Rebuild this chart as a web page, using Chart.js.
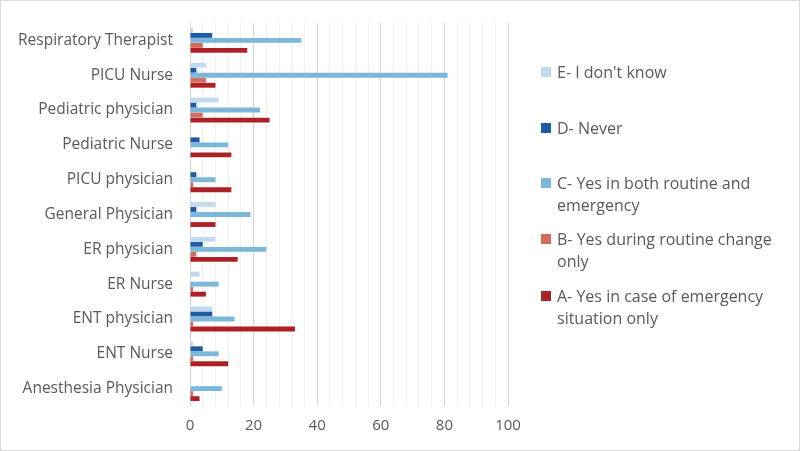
<!DOCTYPE html>
<html lang="en">
<head>
    <meta charset="UTF-8">
    <title>Respuestas por profesión</title>
    <script src="https://cdn.jsdelivr.net/npm/chart.js"></script>
    <style>
        body {
            margin: 0;
            padding: 0;
            background: #fff;
            font-family: "Open Sans", sans-serif;
        }
        .frame {
            position: relative;
            width: 798px;
            height: 449px;
            border: 1px solid #d9d9d9;
        }
        #grafico {
            position: absolute;
            left: 0;
            top: 0;
        }
        .legend {
            position: absolute;
            left: 540px;
            top: 0;
            width: 250px;
            color: #595959;
            font-size: 16px;
            line-height: 22px;
        }
        .legend .item {
            position: absolute;
            left: 0;
            display: flex;
            align-items: flex-start;
        }
        .legend .box {
            width: 10px;
            height: 10px;
            margin-top: 6px;
            margin-right: 6px;
            flex: none;
        }
        .legend .txt {
            width: 228px;
        }
    </style>
</head>
<body>
    <div class="frame">
        <canvas id="grafico" width="798" height="449"></canvas>
        <div id="leyenda" class="legend"></div>
    </div>

    <script>
        // Categorías (de arriba hacia abajo)
        const categorias = [
            "Respiratory Therapist", "PICU Nurse", "Pediatric physician", "Pediatric Nurse",
            "PICU physician", "General Physician", "ER physician", "ER Nurse",
            "ENT physician", "ENT Nurse", "Anesthesia Physician"
        ];

        // Series (mismo orden que categorias)
        const serieE = [1, 5, 9, 0, 0, 8, 8, 3, 7, 1, 0];
        const serieD = [7, 2, 2, 3, 2, 2, 4, 0, 7, 4, 0];
        const serieC = [35, 81, 22, 12, 8, 19, 24, 9, 14, 9, 10];
        const serieB = [4, 5, 4, 0, 1, 0, 2, 1, 1, 1, 1];
        const serieA = [18, 8, 25, 13, 13, 8, 15, 5, 33, 12, 3];

        const nombres = [
            "E- I don't know",
            "D- Never",
            "C- Yes in both routine and emergency",
            "B- Yes during routine change only",
            "A- Yes in case of emergency situation only"
        ];
        const colores = ["#c3daee", "#1f5ba5", "#7ab7d9", "#d56b5b", "#ad2025"];
        const posLeyenda = [60, 116, 171, 227, 284];

        const valores = [serieE, serieD, serieC, serieB, serieA];

        const ctx = document.getElementById("grafico").getContext("2d");
        new Chart(ctx, {
            type: "bar",
            data: {
                labels: categorias,
                datasets: valores.map((v, i) => ({
                    label: nombres[i],
                    data: v,
                    backgroundColor: colores[i],
                    borderWidth: 0,
                    categoryPercentage: 0.72,
                    barPercentage: 0.97
                }))
            },
            options: {
                indexAxis: "y",
                responsive: false,
                animation: false,
                layout: { padding: { left: 0, right: 291, top: 22, bottom: 4 } },
                plugins: {
                    legend: { display: false },
                    tooltip: { enabled: false }
                },
                scales: {
                    x: {
                        min: 0,
                        max: 100,
                        ticks: {
                            stepSize: 4,
                            autoSkip: false,
                            maxRotation: 0,
                            color: "#595959",
                            font: { family: "Open Sans", size: 15 },
                            padding: 11,
                            callback: v => (v % 20 === 0 ? v : "")
                        },
                        grid: {
                            drawTicks: false,
                            color: c => (c.tick && c.tick.value % 20 === 0 ? "#d4d4d4" : "#efefef"),
                            lineWidth: 1
                        },
                        border: { display: false }
                    },
                    y: {
                        afterFit: s => {
                            s.width = 189;
                            s.paddingTop = 0;
                            s.paddingBottom = 0;
                        },
                        ticks: {
                            color: "#595959",
                            font: { family: "Open Sans", size: 15.5 },
                            padding: 17
                        },
                        grid: { display: false, drawTicks: false },
                        border: { display: false }
                    }
                }
            }
        });

        // Leyenda HTML (texto en varias líneas como el original)
        const leyenda = document.getElementById("leyenda");
        nombres.forEach((n, i) => {
            const item = document.createElement("div");
            item.className = "item";
            item.style.top = posLeyenda[i] + "px";
            item.innerHTML = `<span class="box" style="background:${colores[i]}"></span><span class="txt">${n}</span>`;
            leyenda.appendChild(item);
        });
    </script>
</body>
</html>
